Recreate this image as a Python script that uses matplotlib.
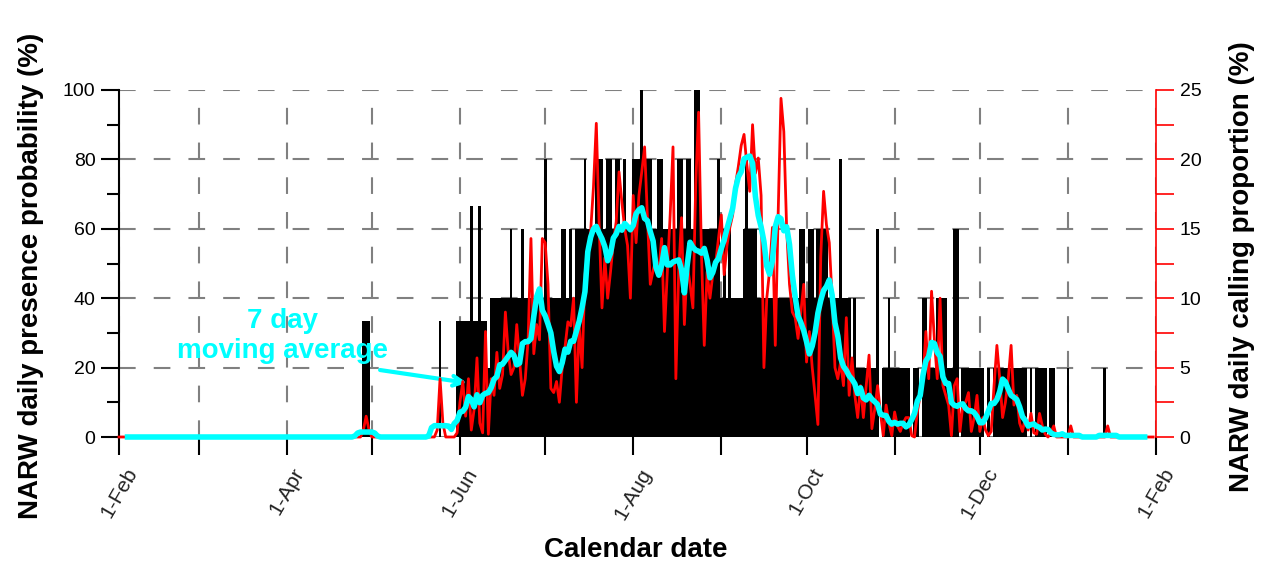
import numpy as np
import pandas as pd
import matplotlib
matplotlib.use("Agg")
import matplotlib.pyplot as plt

plt.rcParams['font.family'] = ['Liberation Sans', 'DejaVu Sans']
plt.rcParams['lines.scale_dashes'] = False

# ------------------------------------------------
# Data (day 0 = 1-Feb, 365 days)
# ------------------------------------------------

n_days = 365
days = np.arange(n_days)

month_starts = [0, 28, 59, 89, 120, 150, 181, 212, 242, 273, 303, 334, 365]
month_labels = ['1-Feb', '', '1-Apr', '', '1-Jun', '', '1-Aug', '', '1-Oct', '', '1-Dec', '', '1-Feb']

# daily presence probability (%), blocks keyed by first day
presence_blocks = {
    86: [33.3, 33.3, 33.3],
    113: [33.3],
    119: [33.3, 33.3, 33.3, 33.3, 33.3, 66.7, 33.3, 33.3, 66.7, 33.3, 33.3, 20,
          40, 40, 40, 40, 40, 40, 40, 60, 40, 40, 40, 60, 40, 40, 40, 40, 40, 40, 40],
    150: [80, 40, 40, 40, 40, 40,
          60, 60, 40, 60, 40, 60, 60, 60, 80, 60,
          60, 60, 80, 80, 80, 60, 80, 80, 60, 80,
          80, 60, 80, 60, 60, 80, 80, 80, 100, 80,
          80, 80, 60, 60, 80, 80],
    192: [60, 60, 60, 60, 60, 80, 80, 60, 80, 80,
          60, 100, 100, 60, 60, 60, 60, 60, 60, 80,
          40, 60, 40, 60, 40, 40, 40, 40, 60, 80,
          60, 60, 60, 40, 40, 40, 40, 40, 40, 40,
          40, 40, 40, 40, 40, 40, 40, 40],
    240: [60, 60, 40, 60, 60, 40, 60, 60, 60, 60,
          40, 40, 40, 40, 80, 40, 40, 40, 20, 40,
          20, 20, 20, 20, 20, 20, 20, 60, 0, 20,
          20, 40, 20, 20, 20, 20, 20, 20, 20, 0],
    280: [20, 20, 0, 40, 40, 20, 20, 20, 40, 20,
          40, 40, 20, 20, 60, 60, 0, 20, 20, 20,
          20, 20, 20, 20, 20, 0, 20, 0, 20, 20,
          20, 20, 20, 20, 20, 20, 20, 20, 20, 20,
          0, 20, 0, 20, 20, 20, 20, 0, 20, 20,
          0, 0, 0, 0, 20],
    347: [20],
}

# daily calling proportion (%), blocks keyed by first day
calling_blocks = {
    86: [0.5, 1.5, 0.5],
    112: [0.5, 4.2, 1.0, 0, 0, 0, 0, 0.3,
          2.5, 4.0, 1.5, 4.2, 0.5, 2.0, 5.7, 1.0, 0.3, 7.6,
          0.2, 4.2, 3.0, 6.1, 3.5, 4.5, 9.0, 6.1, 4.5, 5.0,
          8.1, 5.5, 3.0, 4.2, 7.0, 14.3, 6.0, 8.1, 7.0, 14.3],
    150: [14.0, 11.0, 3.5, 3.2, 4.0, 2.5, 5.0, 6.5, 8.3, 8.0,
          10.0, 2.5, 8.0, 5.0, 11.7, 13.3, 14.8, 18.0, 22.6, 15.3,
          9.3, 12.9, 10.0, 11.9, 14.0, 15.5, 19.1, 16.9, 15.0, 13.8,
          10.0, 17.4, 14.0, 17.4, 19.1, 20.9, 15.8, 11.0, 12.0, 12.9,
          11.9, 14.3],
    192: [7.6, 11.9, 16.0, 20.9, 4.2, 11.9, 15.8, 8.1, 12.4, 11.0,
          9.3, 18.2, 23.4, 13.3, 6.6, 11.9, 10.0, 11.7, 12.5, 14.3,
          16.0, 11.7, 13.8, 15.1, 16.0, 18.2, 19.5, 21.0, 21.8, 19.6,
          17.7, 22.5, 19.0, 20.1, 17.4, 5.0, 10.0, 12.0, 15.1, 6.6,
          16.0, 24.4],
    234: [22.0, 15.0, 11.0, 9.0, 8.6, 7.1, 9.0, 11.0, 5.4, 7.6,
          5.0, 3.0, 0.9, 13.0, 17.7, 15.3, 14.0, 10.0, 5.0, 4.2,
          5.4, 3.7, 8.6, 3.0, 5.7, 3.0, 1.4, 3.7, 1.4, 3.7,
          5.9, 0.6, 2.0, 3.7, 1.8, 0.1, 2.3, 1.0, 0.1, 1.8,
          0.8, 0.4, 1.0, 1.4, 1.4, 0.1],
    280: [0.0, 1.8, 3.0, 4.2, 7.6, 4.2, 10.5, 7.0, 4.2, 10.0,
          3.7, 3.0, 2.3, 0.1, 3.7, 4.2, 0.4, 2.3, 2.5, 3.2,
          0.4, 1.4, 3.0, 0.4, 1.4, 0.5, 0.1, 0.4, 3.7, 6.6,
          4.2, 1.4, 2.5, 4.2, 6.6, 2.3, 3.0, 1.0, 0.4, 1.4,
          0.5, 1.7, 0.3, 0.2, 1.7, 0.8, 0.2, 0.0, 0.3, 0.8],
    335: [0.8],
    348: [0.8],
}


def from_blocks(blocks):
    out = np.zeros(n_days)
    for start, vals in blocks.items():
        out[start:start + len(vals)] = vals
    return out


presence = from_blocks(presence_blocks)
calling = from_blocks(calling_blocks)
calling_ma = pd.Series(calling).rolling(7, center=True).mean()

# ------------------------------------------------
# Figure
# ------------------------------------------------

W, H = 1265, 563
fig = plt.figure(figsize=(W / 100, H / 100), dpi=100)
ax = fig.add_axes([119 / W, 1 - 437 / H, (1156 - 119) / W, (437 - 90) / H])

ax.bar(days, presence, width=1.0, color='black', linewidth=0, zorder=2)
ax.set_xlim(0, 365)
ax.set_ylim(0, 100)
ax.set_axisbelow(True)

ax.set_xticks(month_starts, month_labels, rotation=60, ha='center', fontsize=15,
              color='#222222')
ax.set_yticks(np.arange(0, 101, 20))
ax.set_yticks(np.arange(10, 100, 20), minor=True)
ax.tick_params(axis='y', labelsize=14)
ax.tick_params(axis='x', direction='out', length=13, width=1.5, pad=7)
ax.tick_params(axis='y', which='major', direction='out', length=13, width=1.5, pad=4)
ax.tick_params(axis='y', which='minor', direction='out', length=9, width=1.5)

ax.grid(True, which='major', color='#808080', linestyle=(0, (12, 13)), linewidth=1.5)

for s in ['top', 'right', 'bottom']:
    ax.spines[s].set_visible(False)
ax.spines['left'].set_linewidth(1.5)

# right axis
ax2 = ax.twinx()
ax2.plot(days, calling, color='red', linewidth=2.0, clip_on=False, zorder=3)
ax2.plot(days, calling_ma, color='#00FFFF', linewidth=4, clip_on=False, zorder=4)
ax2.set_ylim(0, 25)
ax2.set_yticks(np.arange(0, 26, 5))
ax2.set_yticks(np.arange(2.5, 25, 5), minor=True)
ax2.tick_params(axis='y', which='both', direction='out', length=13, width=1.2,
                color='red', labelsize=14, labelcolor='black', pad=4)
for s in ['top', 'left', 'bottom']:
    ax2.spines[s].set_visible(False)
ax2.spines['right'].set_color('red')
ax2.spines['right'].set_linewidth(1.2)

# ------------------------------------------------
# Labels
# ------------------------------------------------

fig.text(31 / W, 1 - 276 / H, 'NARW daily presence probability (%)', rotation=90,
         ha='center', va='center', fontsize=20, fontweight='bold')
fig.text(1242 / W, 1 - 267 / H, 'NARW daily calling proportion (%)', rotation=90,
         ha='center', va='center', fontsize=20, fontweight='bold')
fig.text(636 / W, 1 - 550 / H, 'Calendar date', ha='center', va='center',
         fontsize=20, fontweight='bold')

ax.text(57.7, 29.2, '7 day\nmoving average', ha='center', va='center',
        color='#00FFFF', fontsize=20, fontweight='bold', zorder=5)
ax.annotate('', xy=(122.5, 15.6), xytext=(91.9, 19.3),
            arrowprops=dict(arrowstyle='->,head_length=0.7,head_width=0.35',
                            color='#00FFFF', lw=3, shrinkA=0, shrinkB=0),
            zorder=5)

fig.savefig('out.png', dpi=100)
